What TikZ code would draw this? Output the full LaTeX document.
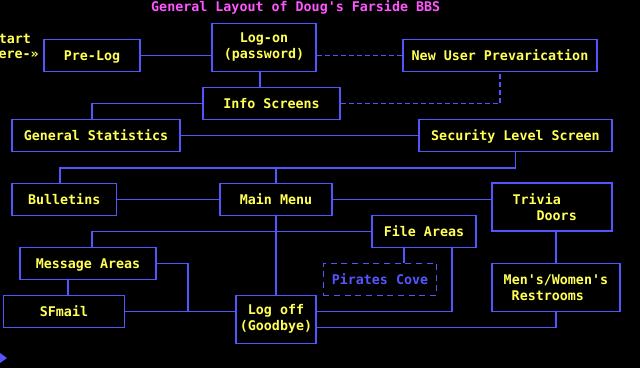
\documentclass[tikz,border=0pt]{standalone}
\usepackage{fontspec}
\setmonofont{DejaVu Sans Mono}
\usepackage{tikz}
\usetikzlibrary{positioning}
\definecolor{bbsblue}{HTML}{5555FF}
\definecolor{bbsyellow}{HTML}{FFFF55}
\definecolor{bbspink}{HTML}{FF55FF}
\tikzset{
  dosfont/.style={font=\ttfamily\bfseries\fontsize{10}{12}\selectfont},
  txt/.style={dosfont, text=bbsyellow, inner sep=0pt},
  sbox/.style={draw=bbsblue, line width=1.1pt, dosfont, text=bbsyellow,
               align=center, inner sep=0pt},
  onebox/.style={sbox, minimum height=24pt, text height=7.3pt, text depth=0pt},
  pbox/.style={onebox, dash pattern=on 4.5pt off 3.5pt, text=bbsblue},
  lnk/.style={bbsblue, line width=1.1pt},
  dlnk/.style={lnk, dash pattern=on 3.75pt off 2.25pt},
}
\begin{document}
\begin{tikzpicture}[x=0.75pt, y=-0.75pt]
  \fill[black] (0,0) rectangle (640,368);
  \useasboundingbox (0,0) rectangle (640,368);

  \node[txt, text=bbspink] (title) at (295.7,7.3) {General Layout of Doug's Farside BBS};
  \node[txt, anchor=west] (start) at (-1.5,39.3) {tart};
  \node[txt, anchor=west] (here) at (-1.7,55.3) {ere-»};

  \node[onebox, minimum width=72pt] (prelog) at (92,55.3) {Pre-Log};
  \node[sbox, minimum width=78pt, minimum height=36pt] (logon) at (264,47.3) {Log-on\\(password)};
  \node[onebox, minimum width=145.5pt] (newuser) at (500,55.3) {New User Prevarication};
  \node[onebox, minimum width=102.75pt] (info) at (271.5,103.4) {Info Screens};
  \node[onebox, minimum width=126pt] (genstats) at (96,135.4) {General Statistics};
  \node[onebox, minimum width=144.75pt] (security) at (515.5,135.4) {Security Level Screen};
  \node[onebox, minimum width=78.4pt] (bulletins) at (64.2,199.3) {Bulletins};
  \node[onebox, minimum width=84pt] (mainmenu) at (276,199.3) {Main Menu};
  \node[sbox, minimum width=90pt, minimum height=36pt, text width=59pt, align=left,
        inner xsep=15.5pt] (trivia) at (552,207.2) {Trivia\\\hspace*{18pt}Doors};
  \node[onebox, minimum width=78pt] (fileareas) at (424,231.3) {File Areas};
  \node[onebox, minimum width=102pt] (msgareas) at (88,263.3) {Message Areas};
  \node[pbox, minimum width=85pt] (pirates) at (380,279.3) {Pirates Cove};
  \node[sbox, minimum width=96pt, minimum height=36pt, text width=78.4pt, align=left,
        inner xsep=8.8pt] (restrooms) at (556,287.3) {Men's/Women's\\\hspace*{6pt}Restrooms};
  \node[onebox, minimum width=90.75pt] (sfmail) at (64,311.3) {SFmail};
  \node[sbox, minimum width=60pt, minimum height=36pt] (logoff) at (276,319.3) {Log off\\(Goodbye)};

  \draw[lnk] (prelog.east) -- (prelog.east -| logon.west);
  \draw[dlnk] (newuser.west -| logon.east) -- (newuser.west);
  \draw[lnk] ([xshift=-3pt]logon.south) -- ([xshift=-3pt]logon.south |- info.north);
  \draw[lnk] (info.west) -| ([xshift=-3pt]genstats.north);
  \draw[dlnk] (info.east) -| (newuser.south);
  \draw[lnk] (genstats.east) -- (security.west);
  \coordinate (secbus) at ([yshift=-12pt]security.south);
  \draw[lnk] (security.south) -- (secbus) -| ([xshift=-3pt]bulletins.north);
  \draw[lnk] (mainmenu.north) -- (mainmenu.north |- secbus);
  \draw[lnk] (bulletins.east) -- (mainmenu.west);
  \draw[lnk] (mainmenu.east) -- (mainmenu.east -| trivia.west);
  \draw[lnk] (mainmenu.south) -- (logoff.north);
  \draw[lnk] (fileareas.west) -| ([xshift=3pt]msgareas.north);
  \draw[lnk] ([xshift=-15pt]fileareas.south) -- ([xshift=-15pt]fileareas.south |- pirates.north);
  \draw[lnk] ([xshift=21pt]fileareas.south) |- ([yshift=6pt]logoff.east);
  \draw[lnk] (restrooms.north) -- (restrooms.north |- trivia.south);
  \draw[lnk] (restrooms.south) |- ([yshift=-6pt]logoff.east);
  \draw[lnk] ([xshift=-15pt]msgareas.south) -- ([xshift=-15pt]msgareas.south |- sfmail.north);
  \coordinate (msgjoin) at (188,311.3);
  \draw[lnk] (msgareas.east) -| (msgjoin);
  \draw[lnk] (sfmail.east) -- (sfmail.east -| logoff.west);

  \fill[bbsblue] (0,353) -- (7,358) -- (0,363) -- cycle;
\end{tikzpicture}
\end{document}
